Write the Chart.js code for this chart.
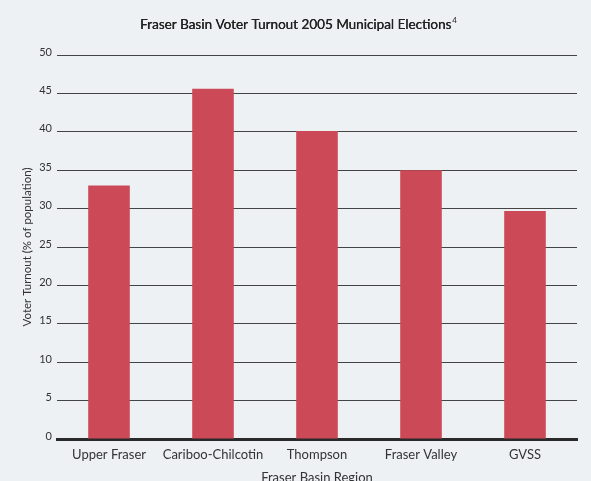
<!DOCTYPE html>
<html>
<head>
<meta charset="utf-8">
<script src="https://cdn.jsdelivr.net/npm/chart.js@4/dist/chart.umd.min.js"></script>
<style>
  html, body { margin: 0; padding: 0; overflow: hidden; background: #edf1f4; }
  #turnout { display: block; }
</style>
</head>
<body>
<canvas id="turnout" width="591" height="490"></canvas>
<script>
// voter turnout by Fraser Basin region, 2005 municipal elections
var regions = ["Upper Fraser", "Cariboo-Chilcotin", "Thompson", "Fraser Valley", "GVSS"];
var turnout = [33, 45.6, 40.1, 35, 29.7];
var yTicks = [0, 5, 10, 15, 20, 25, 30, 35, 40, 45, 50];
var chartTitle = "Fraser Basin Voter Turnout 2005 Municipal Elections";
var titleNote = "4";

var fontFamily = "Lato, 'Open Sans', sans-serif";

// heading with a superscript note number
var headingPlugin = {
  id: "heading",
  afterDraw: function (chart) {
    var c = chart.ctx;
    c.save();
    c.fillStyle = "#222222";
    c.textBaseline = "middle";
    c.textAlign = "left";
    c.font = "13.5px " + fontFamily;
    var w = c.measureText(chartTitle).width;
    c.font = "8px " + fontFamily;
    var nw = c.measureText(titleNote).width;
    var x = 298 - (w + nw) / 2;
    c.font = "13.5px " + fontFamily;
    c.fillText(chartTitle, x, 25);
    c.fillText(chartTitle, x + 0.3, 25);
    c.font = "8px " + fontFamily;
    c.fillText(titleNote, x + w + 1, 20);
    c.restore();
  }
};

var ctx = document.getElementById("turnout");
var chart = new Chart(ctx, {
  type: "bar",
  data: {
    labels: regions,
    datasets: [{
      label: "Voter Turnout",
      data: turnout,
      backgroundColor: "#cc4957",
      borderWidth: 0,
      barPercentage: 0.4,
      categoryPercentage: 1
    }]
  },
  plugins: [headingPlugin],
  options: {
    responsive: false,
    animation: false,
    layout: { padding: { left: 0, right: 14, top: 55, bottom: 0 } },
    plugins: {
      legend: { display: false },
      tooltip: { enabled: false },
      title: { display: false }
    },
    scales: {
      x: {
        grid: { display: false },
        border: { display: true, color: "#2a2a2a", width: 3 },
        ticks: {
          color: "#333333",
          padding: 0,
          maxRotation: 0,
          minRotation: 0,
          autoSkip: false,
          font: { family: fontFamily, size: 13 }
        },
        title: {
          display: true,
          text: "Fraser Basin Region",
          color: "#333333",
          font: { family: fontFamily, size: 13 },
          padding: { top: 4, bottom: 4 }
        },
        afterFit: function (scale) { scale.height = 51; }
      },
      y: {
        min: 0,
        max: 50,
        afterBuildTicks: function (scale) {
          scale.ticks = yTicks.map(function (v) { return { value: v }; });
        },
        grid: {
          color: "#444444",
          lineWidth: 1,
          drawTicks: false
        },
        border: { display: false },
        ticks: {
          color: "#333333",
          padding: 5,
          labelOffset: -3,
          font: { family: fontFamily, size: 11 }
        },
        title: {
          display: true,
          text: "Voter Turnout (% of population)",
          color: "#333333",
          font: { family: fontFamily, size: 11.5 },
          padding: { top: 20, bottom: 0 }
        },
        afterFit: function (scale) { scale.width = 57; }
      }
    }
  }
});
</script>
</body>
</html>
